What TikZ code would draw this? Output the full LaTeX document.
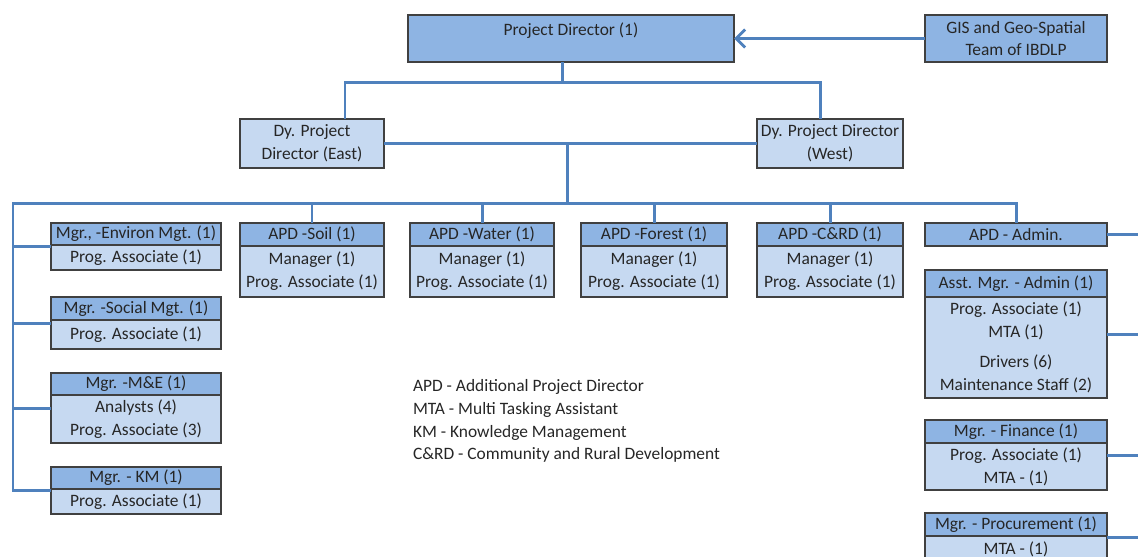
\documentclass[tikz,border=0pt]{standalone}
\usepackage{fontspec}
\setmainfont{Carlito}
\usetikzlibrary{arrows.meta}
\usetikzlibrary{calc}

\definecolor{hdblue}{RGB}{142,180,227}
\definecolor{bdblue}{RGB}{198,217,241}
\definecolor{lnblue}{RGB}{79,129,189}
\definecolor{edgegray}{RGB}{64,64,64}
\newcommand{\px}{0.02cm}

\tikzset{
	txt/.style={font=\fontsize{9.9}{13}\selectfont, text=black!85, inner sep=0pt, outer sep=0pt},
	hd/.style={txt, draw=edgegray, line width=0.8pt, fill=hdblue, align=center},
	bd/.style={txt, draw=edgegray, line width=0.8pt, fill=bdblue, align=center},
	link/.style={draw=lnblue, line width=1.7pt},
}

% name, top centre, width, header, header height, body height, body
\newcommand{\orgbox}[7]{%
	\node[hd, anchor=north, minimum width=#3*\px, minimum height=#5*\px] (#1h) at (#2) {#4};
	\node[bd, anchor=north, minimum width=#3*\px, minimum height=#6*\px] (#1) at (#1h.south) {#7};
	\coordinate (#1w) at ($(#1h.north west)!0.5!(#1.south west)$);
	\coordinate (#1e) at ($(#1h.north east)!0.5!(#1.south east)$);
}

\begin{document}
\begin{tikzpicture}[x=\px, y=-\px]
	\useasboundingbox (0,0) rectangle (1138,556);
	\clip (0,0) rectangle (1138,556);
	\node[hd, minimum width=326*\px, minimum height=47*\px, text height=0.25cm, text depth=0.39cm] (pd) at (571,38.5) {Project Director (1)};
	\node[hd, minimum width=182*\px, minimum height=47*\px] (gis) at (1016,38.5) {GIS and Geo-Spatial\\Team of IBDLP};
	\node[bd, minimum width=144*\px, minimum height=49*\px] (east) at (312,143.5) {Dy. Project\\Director (East)};
	\node[bd, minimum width=146*\px, minimum height=49*\px] (west) at (830,143.5) {Dy. Project Director\\(West)};
	\draw[link, -{Straight Barb[length=1.8mm,width=3.6mm]}] (gis.west) -- (pd.east);
	\coordinate (top) at (562,82);
	\draw[link] (pd.south -| top) -- (top);
	\draw[link] ([xshift=33*\px]east.north) |- (top) -| ([xshift=-10*\px]west.north);
	\draw[link] (east) -- (west);
	\coordinate (bus) at (567,203);
	\draw[link] (bus |- east.east) -- (bus);
	% left column
	\orgbox{env}{136,223}{170}{Mgr., -Environ Mgt. (1)}{22}{25}{Prog. Associate (1)}
	\orgbox{soc}{136,297}{170}{Mgr. -Social Mgt. (1)}{23}{29}{Prog. Associate (1)}
	\orgbox{me}{136,373}{170}{Mgr. -M\&E (1)}{22}{48}{Analysts (4)\\Prog. Associate (3)}
	\orgbox{km}{136,467}{170}{Mgr. - KM (1)}{22}{25}{Prog. Associate (1)}
	% APD boxes
	\orgbox{soil}{312,223}{144}{APD -Soil (1)}{23}{51}{Manager (1)\\Prog. Associate (1)}
	\orgbox{water}{482,223}{144}{APD -Water (1)}{23}{51}{Manager (1)\\Prog. Associate (1)}
	\orgbox{forest}{654,223}{146}{APD -Forest (1)}{23}{51}{Manager (1)\\Prog. Associate (1)}
	\orgbox{crd}{830,223}{146}{APD -C\&RD (1)}{23}{51}{Manager (1)\\Prog. Associate (1)}
	% admin column
	\node[hd, minimum width=182*\px, minimum height=23*\px] (adm) at (1016,234.5) {APD - Admin.};
	\orgbox{asst}{1016,270}{182}{Asst. Mgr. - Admin (1)}{27}{101}{Prog. Associate (1)\\MTA (1)\\[4pt]Drivers (6)\\Maintenance Staff (2)}
	\orgbox{fin}{1016,420}{182}{Mgr. - Finance (1)}{23}{47}{Prog. Associate (1)\\MTA - (1)}
	\orgbox{proc}{1016,513}{182}{Mgr. - Procurement (1)}{23}{26}{MTA - (1)}
	\coordinate (lbus) at (13,203);
	\draw[link] (kmw) -| (lbus) -- (adm.north |- lbus) -- (adm.north);
	\foreach \bx in {env,soc,me}
		\draw[link] (lbus |- \bx w) -- (\bx w);
	\foreach \bx in {soil,water,forest,crd}
		\draw[link] (\bx h.north) -- (\bx h.north |- lbus);
	\coordinate (redge) at (1138,0);
	\draw[link] (adm.east) -- (adm.east -| redge);
	\foreach \bx in {asst,fin,proc}
		\draw[link] (\bx e) -- (\bx e -| redge);
	\node[txt, align=left, anchor=west] (legend) at (413,421) {APD - Additional Project Director\\MTA - Multi Tasking Assistant\\KM - Knowledge Management\\C\&RD - Community and Rural Development};
\end{tikzpicture}
\end{document}
